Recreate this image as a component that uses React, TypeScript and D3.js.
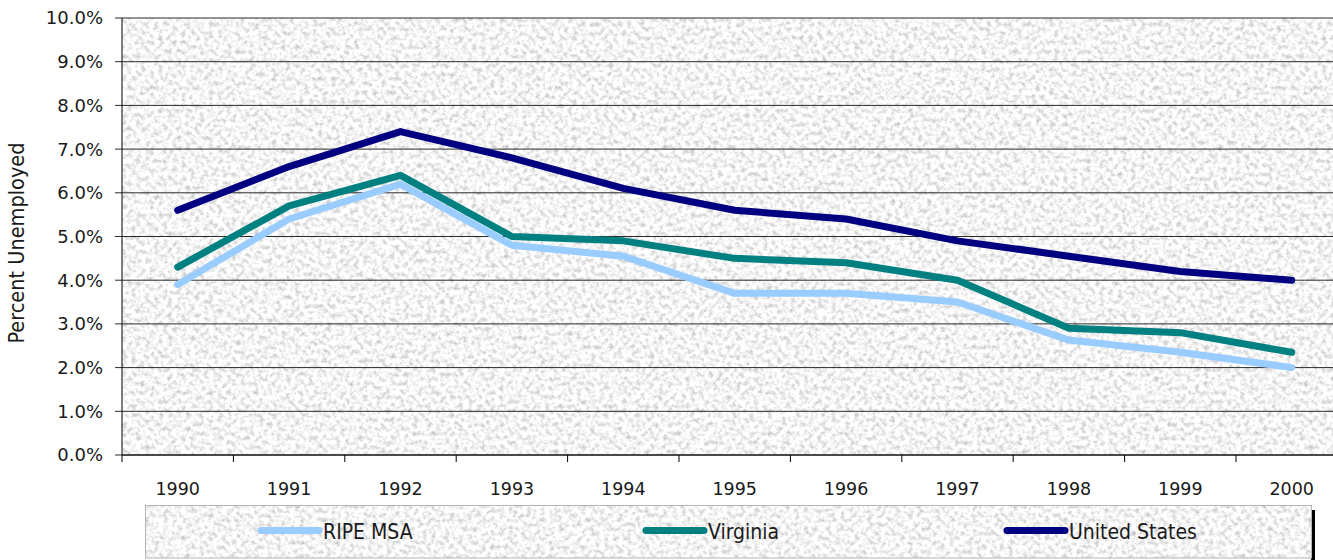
import React from "react";
import * as d3 from "d3";

const years = ["1990", "1991", "1992", "1993", "1994", "1995", "1996", "1997", "1998", "1999", "2000"];
const ripeMsa = [3.9, 5.4, 6.2, 4.8, 4.55, 3.7, 3.7, 3.5, 2.63, 2.35, 2.0];
const virginia = [4.3, 5.7, 6.4, 5.0, 4.9, 4.5, 4.4, 4.0, 2.9, 2.8, 2.35];
const unitedStates = [5.6, 6.6, 7.4, 6.8, 6.1, 5.6, 5.4, 4.9, 4.55, 4.2, 4.0];
const yTicks = [0, 1, 2, 3, 4, 5, 6, 7, 8, 9, 10];

const seriesList = [
  { name: "RIPE MSA", values: ripeMsa, color: "#99ccff" },
  { name: "Virginia", values: virginia, color: "#008080" },
  { name: "United States", values: unitedStates, color: "#000080" },
];

const W = 1333;
const H = 560;
const left = 122;
const top = 18;
const bottom = 455;
const bandW = 111.4;

export default function App() {
  const x = d3.scaleBand<string>().domain(years).range([left, left + bandW * years.length]).padding(0);
  const y = d3.scaleLinear().domain([0, 10]).range([bottom, top]);
  const cx = (yr: string) => (x(yr) as number) + x.bandwidth() / 2;
  const line = d3
    .line<number>()
    .x((_, i) => cx(years[i]))
    .y((v) => y(v));
  const plotRight = left + bandW * years.length;
  const tickFont = "'DejaVu Sans', Verdana, sans-serif";
  const condFont = "'DejaVu Sans Condensed', 'DejaVu Sans', sans-serif";
  const legendX = [261, 646, 1007];

  return (
    <svg width={W} height={H} style={{ position: "absolute", left: 0, top: 0, background: "#fff" }}>
      <defs>
        <filter id="granite" x="0" y="0" width="1" height="1" colorInterpolationFilters="sRGB">
          <feTurbulence type="fractalNoise" baseFrequency="0.22" numOctaves="4" seed="7" result="n" />
          <feColorMatrix
            in="n"
            type="matrix"
            values="0.5 0 0 0 0.71  0.5 0 0 0 0.71  0.5 0 0 0 0.71  0 0 0 0 1"
          />
        </filter>
      </defs>
      {/* plot background */}
      <rect x={left} y={top} width={plotRight - left} height={bottom - top} filter="url(#granite)" />
      {/* gridlines */}
      {yTicks.map((t) => (
        <line key={"g" + t} x1={left - 7} x2={plotRight} y1={y(t)} y2={y(t)} stroke="#2a2a2a" strokeWidth={1} />
      ))}
      {/* axes */}
      <line x1={left} x2={left} y1={top} y2={bottom} stroke="#000" strokeWidth={1} />
      <line x1={left} x2={plotRight} y1={bottom} y2={bottom} stroke="#000" strokeWidth={1} />
      {years.map((yr) => (
        <line key={"xt" + yr} x1={x(yr) as number} x2={x(yr) as number} y1={bottom} y2={bottom + 7} stroke="#000" />
      ))}
      {/* y tick labels */}
      {yTicks.map((t) => (
        <text
          key={"yl" + t}
          x={103}
          y={y(t)}
          dy="0.36em"
          textAnchor="end"
          fontFamily={tickFont}
          fontSize={18}
          fill="#1a1a1a"
        >
          {d3.format(".1f")(t) + "%"}
        </text>
      ))}
      {/* x tick labels */}
      {years.map((yr) => (
        <text key={"xl" + yr} x={cx(yr)} y={495} textAnchor="middle" fontFamily={tickFont} fontSize={17.5} fill="#1a1a1a">
          {yr}
        </text>
      ))}
      {/* y axis title */}
      <text
        transform={`translate(24, 243) rotate(-90)`}
        textAnchor="middle"
        fontFamily={condFont}
        fontSize={21.5}
        fill="#1a1a1a"
      >
        Percent Unemployed
      </text>
      {/* series */}
      {seriesList.map((s) => (
        <path
          key={s.name}
          d={line(s.values) as string}
          fill="none"
          stroke={s.color}
          strokeWidth={7}
          strokeLinejoin="round"
          strokeLinecap="round"
        />
      ))}
      {/* legend */}
      <rect x={1311} y={510} width={4} height={50} fill="#000" />
      <rect x={145.5} y={505.5} width={1166} height={52.5} filter="url(#granite)" />
      <rect x={145.5} y={505.5} width={1166} height={52.5} fill="none" stroke="#b5b5b5" strokeWidth={1} />
      {seriesList.map((s, i) => (
        <g key={"lg" + s.name}>
          <line
            x1={legendX[i]}
            x2={legendX[i] + 58}
            y1={530.5}
            y2={530.5}
            stroke={s.color}
            strokeWidth={7}
            strokeLinecap="round"
          />
          <text x={legendX[i] + 62} y={538.5} fontFamily={condFont} fontSize={21} fill="#1a1a1a">
            {s.name}
          </text>
        </g>
      ))}
    </svg>
  );
}
